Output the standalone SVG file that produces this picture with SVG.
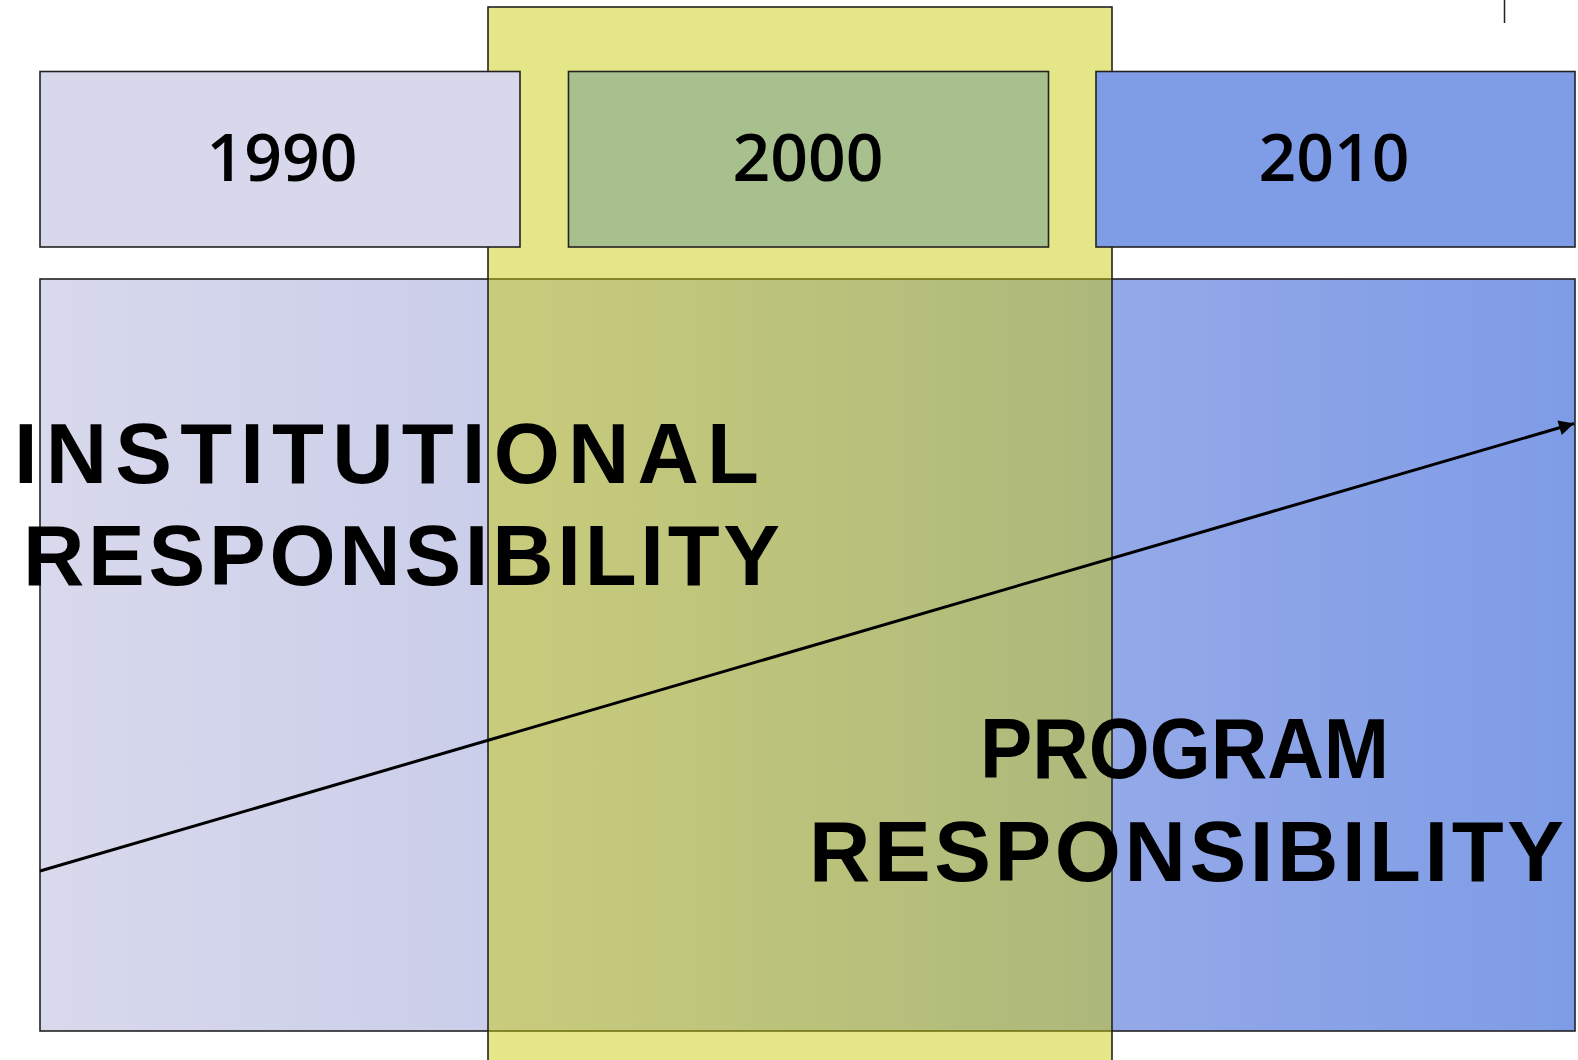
<svg xmlns="http://www.w3.org/2000/svg" width="1578" height="1060" viewBox="0 0 1578 1060">
<style>
.box{stroke:#222;stroke-width:1.6}
.yr{font-family:"Open Sans","Noto Sans",sans-serif;font-weight:600;font-size:66px;fill:#000;text-anchor:middle}
.big{font-family:"Liberation Sans",Arial,sans-serif;font-weight:700;font-size:85px;fill:#000}
</style>
<defs>
<linearGradient id="band" gradientUnits="userSpaceOnUse" x1="40" y1="0" x2="1575" y2="0">
<stop offset="0" stop-color="#D8D9EC"/>
<stop offset="0.292" stop-color="#CBCEEA"/>
<stop offset="0.698" stop-color="#94A9E8"/>
<stop offset="1" stop-color="#7E9CE6"/>
</linearGradient>
<marker id="ah" viewBox="0 0 10 10" refX="10" refY="5" markerWidth="6" markerHeight="5" markerUnits="strokeWidth" orient="auto">
<path d="M0,0 L10,5 L0,10 z" fill="#000"/>
</marker>
</defs>
<rect width="1578" height="1060" fill="#fff"/>
<g id="band-node">
<rect class="box" x="40" y="279" width="1535" height="752" fill="url(#band)"/>
</g>
<g id="era-2000">
<rect x="488" y="7" width="624" height="1060" fill="rgb(200,202,0)" fill-opacity="0.47" stroke="#222" stroke-width="1.6"/>
</g>
<g id="y1990">
<rect class="box" x="40" y="71.5" width="480" height="175.5" fill="#D7D8EC"/>
<text class="yr" x="282" y="181">1990</text>
</g>
<g id="y2000">
<rect class="box" x="568.5" y="71.5" width="480" height="175.5" fill="#A7C08E"/>
<text class="yr" x="808" y="181">2000</text>
</g>
<g id="y2010">
<rect class="box" x="1096" y="71.5" width="479" height="175.5" fill="#7F9DE6"/>
<text class="yr" x="1334" y="181">2010</text>
</g>
<g id="tick">
<line x1="1504.5" y1="0" x2="1504.5" y2="23" stroke="#222" stroke-width="1.5"/>
</g>
<g id="connectors">
<line x1="40" y1="871" x2="1574" y2="423.5" stroke="#000" stroke-width="3" marker-end="url(#ah)"/>
</g>
<g id="institutional">
<text class="big" x="14" y="483" textLength="745" lengthAdjust="spacing">INSTITUTIONAL</text>
<text class="big" x="23" y="585" textLength="757" lengthAdjust="spacing">RESPONSIBILITY</text>
</g>
<g id="program">
<text class="big" x="980" y="778" textLength="409" lengthAdjust="spacingAndGlyphs">PROGRAM</text>
<text class="big" x="809" y="881" textLength="755" lengthAdjust="spacing">RESPONSIBILITY</text>
</g>
</svg>
